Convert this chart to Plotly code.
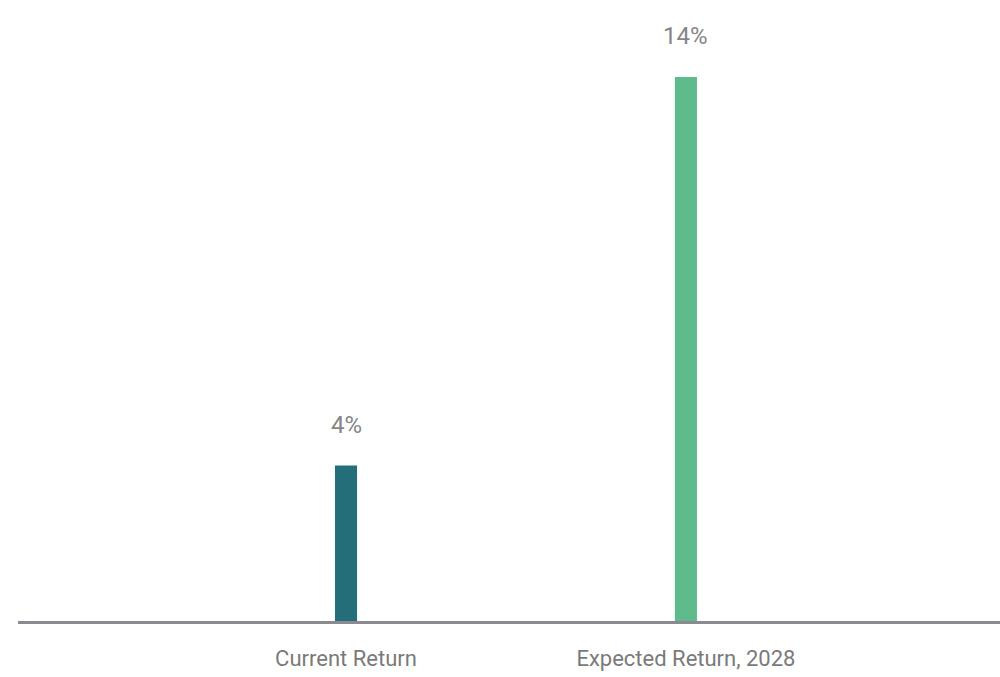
import plotly.graph_objects as go

categories = ["Current Return", "Expected Return, 2028"]
values = [4, 14]
labels = ["4%", "14%"]
colors = ["#236e78", "#5fbb8c"]

FONT = "Roboto, Liberation Sans, sans-serif"

fig = go.Figure()
fig.add_trace(go.Bar(
    x=[0, 1], y=values, width=0.065,
    marker=dict(color=colors, line=dict(width=0)),
    hoverinfo="skip",
))
for i, (v, t) in enumerate(zip(values, labels)):
    fig.add_annotation(x=i, y=v, text=t, showarrow=False, yanchor="bottom",
                       yshift=25, font=dict(family=FONT, size=24, color="#858585"))

fig.update_layout(
    width=1000, height=677,
    margin=dict(l=18, r=0, t=0, b=56),
    paper_bgcolor="white", plot_bgcolor="white",
    showlegend=False,
    xaxis=dict(range=[-0.965, 1.924], tickvals=[0, 1], ticktext=categories,
               showgrid=False, zeroline=False, showline=True, linecolor="#8a8a90",
               linewidth=3, ticks="", ticklabelstandoff=16, automargin=False,
               tickfont=dict(family=FONT, size=22, color="#7a7a7a")),
    yaxis=dict(range=[0, 15.98], visible=False, showgrid=False, zeroline=False,
               automargin=False),
)
fig.write_html("out.html", config={"displayModeBar": False},
               post_script="document.body.style.margin='0';document.body.style.overflow='hidden';")
